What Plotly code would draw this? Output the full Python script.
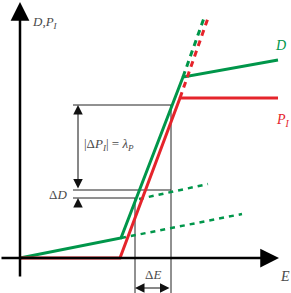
import plotly.graph_objects as go

# ---- data (schematic, in E / D units) ----
D_E = [0, 10.1, 16.3, 25.8]
D_val = [0, 2.0, 18.1, 19.8]
D_steep_ext_E = [16.3, 18.4]
D_steep_ext_val = [18.1, 24.0]
D_low_ext_E = [10.1, 22.2]
D_low_ext_val = [2.0, 4.4]
D_shift_E = [11.9, 18.8]
D_shift_val = [5.9, 7.4]

P_E = [0, 10.0, 16.0, 25.8]
P_val = [0, 0, 16.0, 16.0]
P_steep_ext_E = [16.0, 18.8]
P_steep_ext_val = [16.0, 24.0]

E1 = 11.5   # lower operating point
E2 = 15.1   # upper operating point
y_low = 6.0
y_dD = 6.8
y_top = 15.3
x_left = 5.3
x_arrow = 5.8
y_min = -3.5
y_dE = -3.0

GREEN = "#00964a"
RED = "#e5242b"
TXT = "#4a4a4a"

fig = go.Figure()

def seg(xs, ys, color, width, dash=None):
    fig.add_trace(go.Scatter(x=xs, y=ys, mode="lines",
                             line=dict(color=color, width=width, dash=dash),
                             hoverinfo="skip", showlegend=False))

# thin construction lines
seg([x_left, E2], [y_top, y_top], "#222", 1)
seg([x_left, E2], [y_dD, y_dD], "#222", 1)
seg([x_left, E1], [y_low, y_low], "#222", 1)
seg([E1, E1], [y_min, y_low], "#222", 1)
seg([E2, E2], [y_min, y_top], "#222", 1)

# green D
seg(D_low_ext_E, D_low_ext_val, GREEN, 2.5, "5px,5px")
seg(D_shift_E, D_shift_val, GREEN, 2.5, "5px,5px")
seg(D_steep_ext_E, D_steep_ext_val, GREEN, 3, "6px,5px")
seg(D_E, D_val, GREEN, 3)

# red P_I
seg(P_steep_ext_E, P_steep_ext_val, RED, 3, "6px,5px")
seg(P_E, P_val, RED, 3)

ann = []
def arrow(x, y, ax, ay, width=2.5, size=1.3, head=2, side="end", color="black"):
    ann.append(dict(x=x, y=y, ax=ax, ay=ay, xref="x", yref="y", axref="x", ayref="y",
                    showarrow=True, arrowhead=head, arrowsize=size, arrowwidth=width,
                    arrowcolor=color, arrowside=side, text=""))

# axes
arrow(0, 25.6, 0, -2.0, width=2.5, size=1.5)
arrow(25.9, 0, -2.0, 0, width=2.5, size=1.5)
# dimension arrows
arrow(x_arrow, y_top, x_arrow, y_dD, width=1, size=1.9, side="end+start", color="#111")
arrow(x_arrow, y_low, x_arrow, 5.1, width=1, size=1.9, color="#111")
arrow(E1, y_dE, E2, y_dE, width=1, size=1.9, side="end+start", color="#111")

def label(x, y, t, color=TXT, size=12):
    ann.append(dict(x=x, y=y, xref="x", yref="y", text=t, showarrow=False,
                    font=dict(family="Liberation Serif", size=size, color=color),
                    xanchor="center", yanchor="middle"))

label(2.5, 23.6, "<i>D</i>,<i>P<sub>I</sub></i>", TXT, 13)
label(26.0, 21.3, "<i>D</i>", GREEN, 14)
label(26.3, 13.8, "<i>P<sub>I</sub></i>", RED, 14)
label(8.9, 11.4, "|Δ<i>P<sub>I</sub></i>| = <i>λ<sub>P</sub></i>", TXT, 13)
label(3.8, 6.4, "Δ<i>D</i>", TXT, 13)
label(13.3, -1.6, "Δ<i>E</i>", TXT, 13)
label(26.5, -1.8, "<i>E</i>", TXT, 14)

fig.update_layout(
    width=291, height=293, margin=dict(l=0, r=0, t=0, b=0),
    paper_bgcolor="white", plot_bgcolor="white",
    xaxis=dict(range=[-2.0, 27.1], visible=False, fixedrange=True),
    yaxis=dict(range=[-3.5, 25.8], visible=False, fixedrange=True),
    annotations=ann, showlegend=False,
)
fig.write_html("out.html", config={"displayModeBar": False},
               post_script="document.body.style.margin='0';document.body.style.overflow='hidden';")
